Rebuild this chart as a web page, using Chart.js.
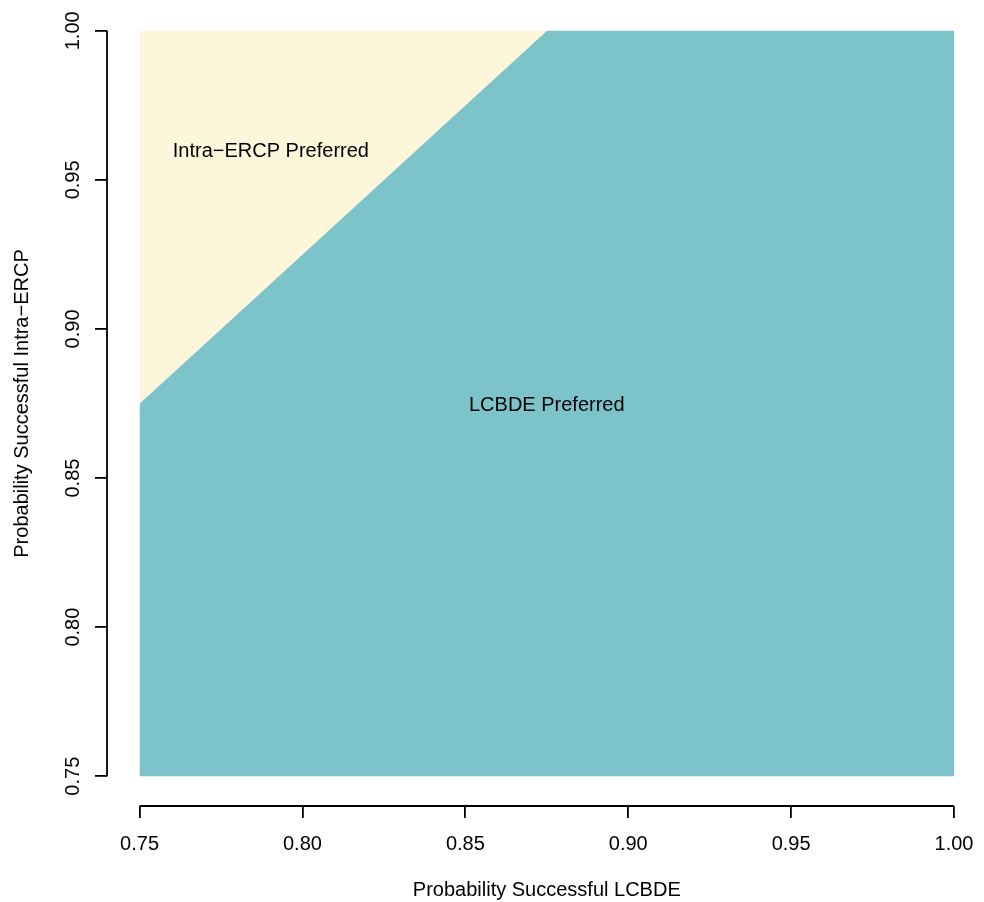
<!DOCTYPE html>
<html>
<head>
<meta charset="utf-8">
<script src="https://cdn.jsdelivr.net/npm/chart.js@4.4.1/dist/chart.umd.min.js"></script>
<style>
html,body{margin:0;padding:0;background:#fff;}
#wrap{width:984px;height:902px;}
</style>
</head>
<body>
<div id="wrap"><canvas id="c" width="984" height="902"></canvas></div>
<script>
// Boundary between regions (Probability LCBDE vs Probability Intra-ERCP)
const boundaryX = [0.75, 0.875, 1.00];
const boundaryY = [0.875, 1.00, 1.00];
const xTicks = [0.75, 0.80, 0.85, 0.90, 0.95, 1.00];
const yTicks = [0.75, 0.80, 0.85, 0.90, 0.95, 1.00];
const regionLabels = ["Intra\u2212ERCP Preferred", "LCBDE Preferred"];
const regionLabelX = [0.7903, 0.875];
const regionLabelY = [0.9595, 0.8745];
const xTitle = "Probability Successful LCBDE";
const yTitle = "Probability Successful Intra\u2212ERCP";

const FONT = '"Liberation Sans", Arial, sans-serif';
const CREAM = '#FDF6DB';
const TEAL = '#7DC4CA';

const pts = boundaryX.map((x, i) => ({x: x, y: boundaryY[i]}));

const decor = {
  id: 'decor',
  afterDraw(chart) {
    const ctx = chart.ctx;
    const xs = chart.scales.x, ys = chart.scales.y;
    ctx.save();
    // axis lines from first to last tick (R style)
    ctx.strokeStyle = '#000';
    ctx.lineWidth = 1.8;
    ctx.beginPath();
    const xb = chart.chartArea.bottom;
    ctx.moveTo(xs.getPixelForValue(xTicks[0]), xb);
    ctx.lineTo(xs.getPixelForValue(xTicks[xTicks.length-1]), xb);
    const yl = chart.chartArea.left;
    ctx.moveTo(yl, ys.getPixelForValue(yTicks[0]));
    ctx.lineTo(yl, ys.getPixelForValue(yTicks[yTicks.length-1]));
    ctx.stroke();
    // y tick labels rotated
    ctx.fillStyle = '#000';
    ctx.font = '20px ' + FONT;
    ctx.textAlign = 'center';
    ctx.textBaseline = 'middle';
    yTicks.forEach(v => {
      const py = ys.getPixelForValue(v);
      ctx.save();
      ctx.translate(73, py);
      ctx.rotate(-Math.PI/2);
      ctx.fillText(v.toFixed(2), 0, 0);
      ctx.restore();
    });
    // axis titles
    ctx.font = '20px ' + FONT;
    ctx.fillText(xTitle, (xs.getPixelForValue(0.75)+xs.getPixelForValue(1.0))/2, 890);
    ctx.save();
    ctx.translate(22, (ys.getPixelForValue(0.75)+ys.getPixelForValue(1.0))/2);
    ctx.rotate(-Math.PI/2);
    ctx.fillText(yTitle, 0, 0);
    ctx.restore();
    // region labels
    ctx.font = '20px ' + FONT;
    regionLabels.forEach((t, i) => {
      ctx.fillText(t, xs.getPixelForValue(regionLabelX[i]), ys.getPixelForValue(regionLabelY[i]));
    });
    ctx.restore();
  }
};

new Chart(document.getElementById('c'), {
  type: 'scatter',
  data: {
    datasets: [
      {data: pts, showLine: true, fill: {value: 1.00}, backgroundColor: CREAM, borderWidth: 0, pointRadius: 0, borderColor: 'rgba(0,0,0,0)'},
      {data: pts, showLine: true, fill: {value: 0.75}, backgroundColor: TEAL, borderWidth: 0, pointRadius: 0, borderColor: 'rgba(0,0,0,0)'}
    ]
  },
  options: {
    responsive: false,
    animation: false,
    devicePixelRatio: 1,
    layout: {padding: {top: 1, right: 30, left: 0, bottom: 0}},
    plugins: {legend: {display: false}, tooltip: {enabled: false}},
    scales: {
      x: {
        type: 'linear', min: 0.74, max: 1.00,
        afterBuildTicks: s => { s.ticks = xTicks.map(v => ({value: v})); },
        afterFit: s => { s.height = 96; s.paddingLeft = 0; s.paddingRight = 0; },
        border: {display: false},
        grid: {drawOnChartArea: false, drawTicks: true, tickLength: 12, color: '#000', lineWidth: 1.8},
        ticks: {color: '#000', font: {size: 20, family: FONT}, padding: 14, maxRotation: 0, autoSkip: false,
                callback: v => Number(v).toFixed(2)}
      },
      y: {
        type: 'linear', min: 0.74, max: 1.01,
        afterBuildTicks: s => { s.ticks = yTicks.map(v => ({value: v})); },
        afterFit: s => { s.width = 107; s.paddingTop = 0; s.paddingBottom = 0; },
        border: {display: false},
        grid: {drawOnChartArea: false, drawTicks: true, tickLength: 12, color: '#000', lineWidth: 1.8},
        ticks: {display: false}
      }
    }
  },
  plugins: [decor]
});
</script>
</body>
</html>
